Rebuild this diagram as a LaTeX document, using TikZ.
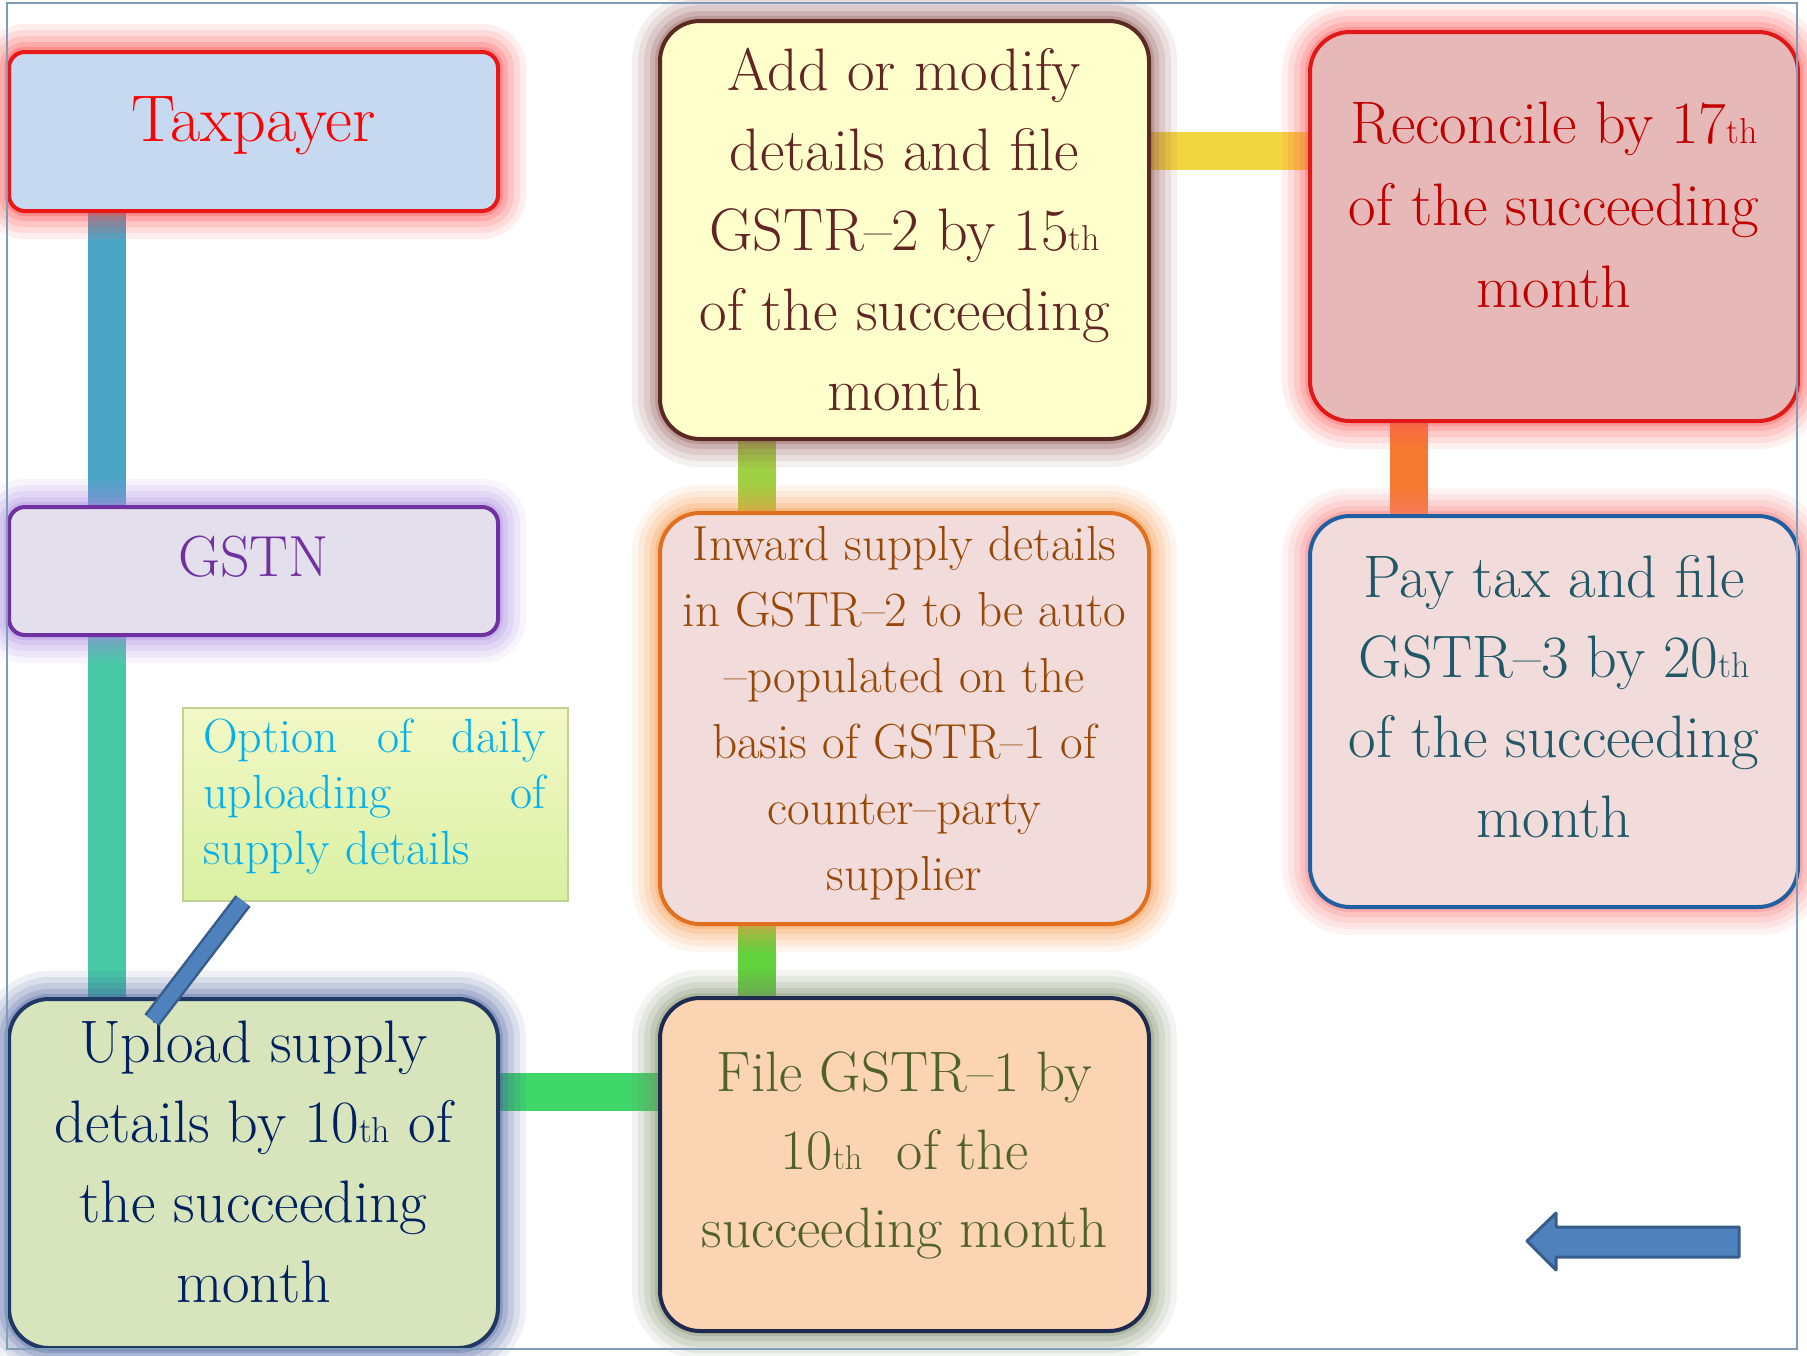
\documentclass[tikz,border=0pt]{standalone}
\usepackage{fontspec}
\usepackage{graphicx}
\usetikzlibrary{calc,backgrounds}
\definecolor{frameC}{HTML}{7F9DB9}
\definecolor{taxFill}{HTML}{C6D9F0}\definecolor{taxBrd}{HTML}{E81818}\definecolor{taxGlow}{HTML}{FF4A4A}\definecolor{taxTxt}{HTML}{FF0000}
\definecolor{gsFill}{HTML}{E4DFEC}\definecolor{gsBrd}{HTML}{7030A0}\definecolor{gsGlow}{HTML}{A888E0}\definecolor{gsTxt}{HTML}{7030A0}
\definecolor{opTop}{HTML}{F2F8C6}\definecolor{opBot}{HTML}{DAF0A2}\definecolor{opBrd}{HTML}{C4CF96}\definecolor{opTxt}{HTML}{00B0F0}
\definecolor{upFill}{HTML}{D7E4BC}\definecolor{upBrd}{HTML}{1F3864}\definecolor{upGlow}{HTML}{4A60A0}\definecolor{upTxt}{HTML}{002060}
\definecolor{adFill}{HTML}{FFFFCC}\definecolor{adBrd}{HTML}{5A2A22}\definecolor{adGlow}{HTML}{955A5A}\definecolor{adTxt}{HTML}{632523}
\definecolor{inFill}{HTML}{F2DCDB}\definecolor{inBrd}{HTML}{E07020}\definecolor{inGlow}{HTML}{F89848}\definecolor{inTxt}{HTML}{984806}
\definecolor{fiFill}{HTML}{FBD4B4}\definecolor{fiBrd}{HTML}{1F2A50}\definecolor{fiGlow}{HTML}{7A8C68}\definecolor{fiTxt}{HTML}{4F6228}
\definecolor{reFill}{HTML}{E6B8B7}\definecolor{reBrd}{HTML}{E01818}\definecolor{reGlow}{HTML}{FF5A5A}\definecolor{reTxt}{HTML}{C00000}
\definecolor{paFill}{HTML}{F2DCDB}\definecolor{paBrd}{HTML}{2060A0}\definecolor{paGlow}{HTML}{F87A7A}\definecolor{paTxt}{HTML}{215868}
\definecolor{barA}{HTML}{4BA6C6}\definecolor{barB}{HTML}{47C9A6}\definecolor{barC}{HTML}{3FD66A}
\definecolor{barD}{HTML}{62D13E}\definecolor{barE}{HTML}{9FD043}\definecolor{barF}{HTML}{F2D640}
\definecolor{barG}{HTML}{F47A30}\definecolor{blueA}{HTML}{4F81BD}\definecolor{blueB}{HTML}{385D8A}
\newcommand{\ordth}{\scalebox{0.6}{th}}
\tikzset{
  boxglow/.style={
    preaction={draw=#1,line width=28pt,opacity=.09},
    preaction={draw=#1,line width=22pt,opacity=.12},
    preaction={draw=#1,line width=16pt,opacity=.15},
    preaction={draw=#1,line width=10pt,opacity=.2},
    preaction={draw=#1,line width=5pt,opacity=.3}},
  gbox/.style={draw,line width=2pt,rounded corners=20pt,anchor=north west,
    inner sep=0pt,outer sep=0pt},
  btxt/.style={align=center,inner sep=0pt,font=\fontsize{30}{40}\selectfont},
  conbar/.style={line width=19pt},
}
\begin{document}
\begin{tikzpicture}[x=0.5pt,y=-0.5pt]
\useasboundingbox (0,0) rectangle (1807,1355);

% boxes
\node[gbox,rounded corners=8pt,boxglow=taxGlow,draw=taxBrd,fill=taxFill,
  minimum width=244.5pt,minimum height=79.5pt] (tax) at (9,52) {};
\node[btxt,text=taxTxt,font=\fontsize{33}{40}\selectfont] (taxt) at ($(tax.center)+(0,-6)$) {Taxpayer};

\node[gbox,rounded corners=8pt,boxglow=gsGlow,draw=gsBrd,fill=gsFill,
  minimum width=244.5pt,minimum height=64pt] (gstn) at (9,507) {};
\node[btxt,text=gsTxt,font=\fontsize{29}{36}\selectfont] (gstnt) at ($(gstn.center)+(0,-14)$) {GSTN};

\node[gbox,boxglow=upGlow,draw=upBrd,fill=upFill,
  minimum width=244.5pt,minimum height=174.5pt] (up) at (9,999) {};
\node[btxt,text=upTxt] (upt) at ($(up.center)+(0,-12)$)
  {Upload supply\\details by 10\ordth{} of\\the succeeding\\month};

\node[gbox,boxglow=adGlow,draw=adBrd,fill=adFill,
  minimum width=244.5pt,minimum height=209pt] (add) at (660,21) {};
\node[btxt,text=adTxt] (addt) at (add.center)
  {Add or modify\\details and file\\GSTR–2 by 15\ordth\\of the succeeding\\month};

\node[gbox,boxglow=inGlow,draw=inBrd,fill=inFill,
  minimum width=244.5pt,minimum height=205.5pt] (inw) at (660,513) {};
\node[btxt,text=inTxt,font=\fontsize{24.6}{33}\selectfont] (inwt) at ($(inw.center)+(0,-5)$)
  {Inward supply details\\in GSTR–2 to be auto\\–populated on the\\basis of GSTR–1 of\\counter–party\\supplier};

\node[gbox,boxglow=fiGlow,draw=fiBrd,fill=fiFill,
  minimum width=244.5pt,minimum height=166.5pt] (file) at (660,998) {};
\node[btxt,text=fiTxt,font=\fontsize{28.5}{39}\selectfont] (filet) at ($(file.center)+(0,-9)$)
  {File GSTR–1 by\\10\ordth{}\ \ of the\\succeeding month};

\node[gbox,boxglow=reGlow,draw=reBrd,fill=reFill,
  minimum width=244pt,minimum height=194.5pt] (rec) at (1310,32) {};
\node[btxt,text=reTxt,font=\fontsize{30}{41}\selectfont] (rect) at ($(rec.center)+(0,-22)$)
  {Reconcile by 17\ordth\\of the succeeding\\month};

\node[gbox,boxglow=paGlow,draw=paBrd,fill=paFill,
  minimum width=244pt,minimum height=195.5pt] (pay) at (1310,516) {};
\node[btxt,text=paTxt] (payt) at ($(pay.center)+(0,-15)$)
  {Pay tax and file\\GSTR–3 by 20\ordth\\of the succeeding\\month};

% option box
\node[draw=opBrd,line width=1pt,top color=opTop,bottom color=opBot,anchor=north west,
  minimum width=192.5pt,minimum height=96.5pt,inner sep=0pt,outer sep=0pt] (opt) at (183,708) {};
\node[anchor=north west,inner sep=0pt,text width=171pt,align=left,text=opTxt,
  font=\fontsize{24}{28}\selectfont] (opttxt)
  at ($(opt.north west)+(20,10)$) {Option\hfill of\hfill daily\\uploading\hfill of\\supply details};

% connectors (behind)
\begin{pgfonlayer}{background}
\fill[white] (0,0) rectangle (1807,1355);
\draw[conbar,barA] ($(tax.south west)+(98,0)$) -- ($(gstn.north west)+(98,0)$);
\draw[conbar,barB] ($(gstn.south west)+(98,0)$) -- ($(up.north west)+(98,0)$);
\path ($(up.north east)+(0,93)$) coordinate (c1);
\draw[conbar,barC] (c1) -- (c1 -| file.west);
\draw[conbar,barD] ($(file.north west)+(97,0)$) -- ($(inw.south west)+(97,0)$);
\draw[conbar,barE] ($(inw.north west)+(97,0)$) -- ($(add.south west)+(97,0)$);
\path ($(add.north east)+(0,130)$) coordinate (c2);
\draw[conbar,barF] (c2) -- (c2 -| rec.west);
\draw[conbar,barG] ($(rec.south west)+(99,0)$) -- ($(pay.north west)+(99,0)$);
\end{pgfonlayer}

% callout bar from option box to upload box
\path ($(opt.south west)+(60,0)$) coordinate (o1);
\path ($(up.north west)+(143,21)$) coordinate (o2);
\draw[blueB,line width=9.5pt] (o1) -- (o2);
\draw[blueA,line width=7pt] (o1) -- (o2);

% block arrow
\filldraw[fill=blueA,draw=blueB,line width=1.5pt,line join=round]
  (1527,1241) -- (1556,1213) -- (1556,1227) -- (1739,1227) -- (1739,1257)
  -- (1556,1257) -- (1556,1270) -- cycle;

% frame
\draw[frameC,line width=1pt] (7,3) rectangle (1797,1349);
\end{tikzpicture}
\end{document}
